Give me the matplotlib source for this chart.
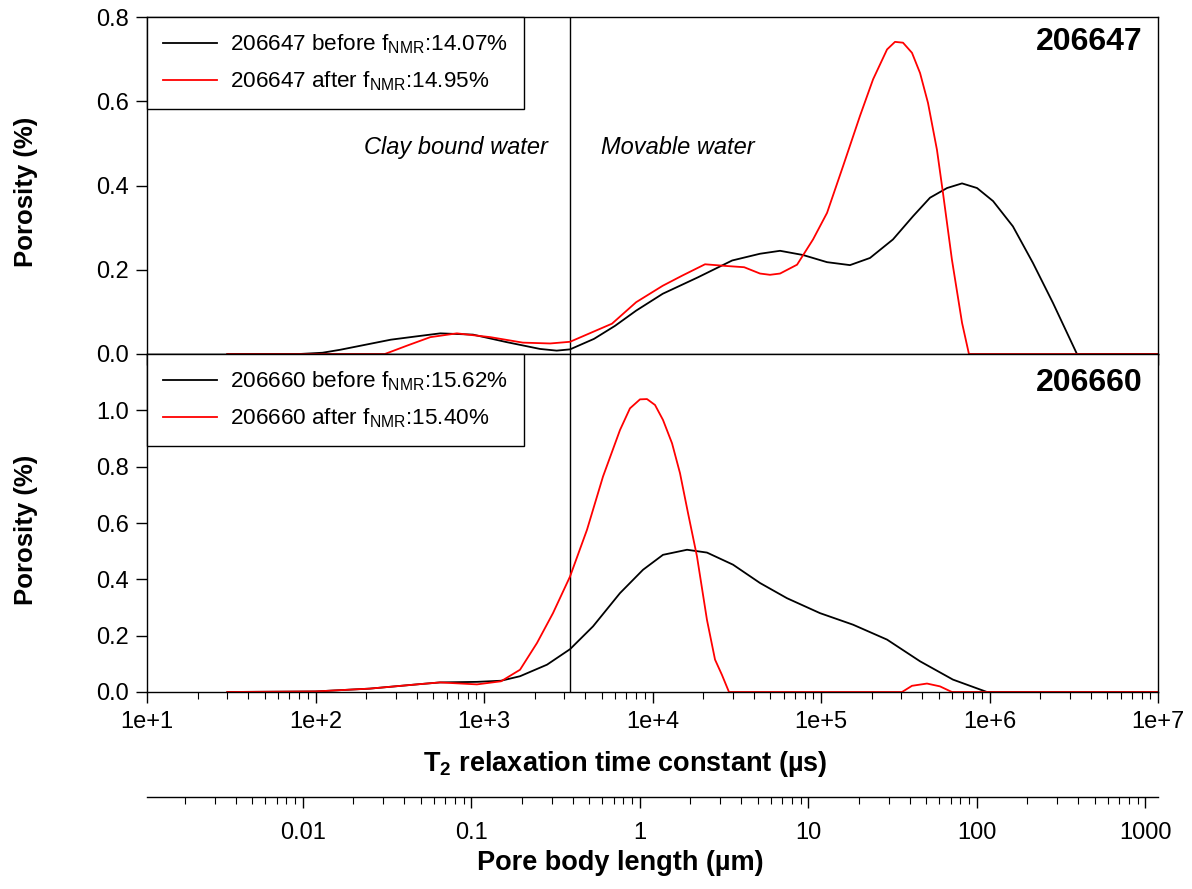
import numpy as np
import matplotlib
matplotlib.use("Agg")
import matplotlib.pyplot as plt
from matplotlib.ticker import FixedLocator, FixedFormatter, LogLocator, NullFormatter
from matplotlib.transforms import blended_transform_factory

plt.rcParams['font.family'] = ['Liberation Sans', 'DejaVu Sans']
plt.rcParams['mathtext.default'] = 'regular'

# ---------------- data (T2 in microseconds, porosity in %) ----------------
t2_a_before = [30, 80, 110, 140, 280, 400, 550, 860, 1370, 2150, 2700, 3240, 4500, 6000, 8000,
               11500, 18600, 29700, 43450, 57150, 78200, 108600, 148600, 195400, 267400,
               351600, 443600, 559800, 687100, 843300, 1050000, 1377000, 1811000, 2382000,
               3304000, 10000000]
por_a_before = [0, 0, 0.003, 0.010, 0.034, 0.042, 0.049, 0.046, 0.028, 0.012, 0.008, 0.011, 0.036,
                0.067, 0.103, 0.143, 0.182, 0.222, 0.238, 0.245, 0.235, 0.218, 0.211, 0.228,
                0.272, 0.327, 0.371, 0.394, 0.405, 0.394, 0.363, 0.303, 0.216, 0.121, 0, 0]

t2_a_after = [30, 258, 350, 480, 690, 1090, 1700, 2470, 3240, 5750, 8000, 11500, 15000, 20500,
              27300, 35000, 43450, 49800, 57150, 72100, 89700, 108600, 135200, 170300, 203700,
              246600, 274900, 306700, 346700, 387100, 431500, 487600, 529700, 598400, 687100,
              755100, 10000000]
por_a_after = [0, 0, 0.020, 0.040, 0.049, 0.040, 0.027, 0.025, 0.029, 0.072, 0.123, 0.162, 0.186,
               0.213, 0.209, 0.206, 0.191, 0.188, 0.191, 0.212, 0.272, 0.335, 0.446, 0.565,
               0.652, 0.723, 0.741, 0.739, 0.715, 0.667, 0.596, 0.485, 0.382, 0.224, 0.074,
               0, 0]

t2_b_before = [30, 100, 210, 417, 548, 908, 1262, 1636, 2366, 3240, 4436, 6412, 8786, 11540,
               16030, 21050, 30060, 43450, 62830, 98620, 154900, 246600, 387100, 606800,
               966000, 10000000]
por_b_before = [0, 0.002, 0.012, 0.028, 0.034, 0.036, 0.040, 0.056, 0.097, 0.152, 0.233, 0.351,
                0.434, 0.487, 0.505, 0.495, 0.452, 0.387, 0.333, 0.280, 0.239, 0.186, 0.109,
                0.044, 0, 0]

t2_b_after = [30, 100, 210, 417, 548, 908, 1262, 1636, 2063, 2567, 3240, 4086, 5085, 6412, 7348,
              8430, 9274, 10350, 11540, 13060, 14560, 16250, 18370, 21050, 23500, 25820, 28440,
              302600, 346700, 425600, 508200, 598400, 10000000]
por_b_after = [0, 0.002, 0.012, 0.028, 0.034, 0.027, 0.038, 0.079, 0.174, 0.280, 0.410, 0.576,
               0.765, 0.930, 1.007, 1.039, 1.040, 1.019, 0.966, 0.883, 0.777, 0.635, 0.481,
               0.256, 0.115, 0.061, 0, 0, 0.022, 0.030, 0.020, 0, 0]

t2_cutoff = 3240  # us
samples = ["206647", "206660"]
labels_a = ["206647 before f$_{NMR}$:14.07%", "206647 after f$_{NMR}$:14.95%"]
labels_b = ["206660 before f$_{NMR}$:15.62%", "206660 after f$_{NMR}$:15.40%"]

t2_ticks = [1e1, 1e2, 1e3, 1e4, 1e5, 1e6, 1e7]
t2_tick_labels = ["1e+1", "1e+2", "1e+3", "1e+4", "1e+5", "1e+6", "1e+7"]
pore_ticks = [0.01, 0.1, 1, 10, 100, 1000]
pore_tick_labels = ["0.01", "0.1", "1", "10", "100", "1000"]
t2_per_um = 8400.0  # T2 (us) per um of pore body length

# ---------------- figure ----------------
W, H = 1192, 889
fig = plt.figure(figsize=(W / 100, H / 100), dpi=100)
L, R = 147, 1158
ax1 = fig.add_axes([L / W, 1 - 354 / H, (R - L) / W, (354 - 17) / H])
ax2 = fig.add_axes([L / W, 1 - 692 / H, (R - L) / W, (692 - 354) / H])

tick_fs = 17
for ax in (ax1, ax2):
    ax.set_xscale('log')
    ax.set_xlim(1e1, 1e7)
    ax.xaxis.set_major_locator(FixedLocator(t2_ticks))
    ax.xaxis.set_minor_locator(LogLocator(base=10, subs=np.arange(2, 10), numticks=20))
    ax.xaxis.set_minor_formatter(NullFormatter())
    ax.tick_params(axis='both', which='major', direction='out', length=8, width=1,
                   labelsize=tick_fs, colors='black')
    ax.tick_params(axis='y', which='major', pad=5)
    ax.tick_params(axis='x', which='minor', direction='out', length=5, width=0.8)
    ax.tick_params(axis='y', which='minor', left=False)
    for s in ax.spines.values():
        s.set_linewidth(1.0)
    ax.axvline(t2_cutoff, color='black', lw=1.0)

ax1.plot(t2_a_before, por_a_before, color='black', lw=1.3, label=labels_a[0])
ax1.plot(t2_a_after, por_a_after, color='#ff0000', lw=1.3, label=labels_a[1])
ax2.plot(t2_b_before, por_b_before, color='black', lw=1.3, label=labels_b[0])
ax2.plot(t2_b_after, por_b_after, color='#ff0000', lw=1.3, label=labels_b[1])

ax1.set_ylim(0, 0.8)
ax1.set_yticks([0.0, 0.2, 0.4, 0.6, 0.8])
ax1.set_yticklabels(["0.0", "0.2", "0.4", "0.6", "0.8"])
ax1.xaxis.set_major_formatter(NullFormatter())

ax2.set_ylim(0, 1.2)
ax2.set_yticks([0.0, 0.2, 0.4, 0.6, 0.8, 1.0])
ax2.set_yticklabels(["0.0", "0.2", "0.4", "0.6", "0.8", "1.0"])
ax2.xaxis.set_major_formatter(FixedFormatter(t2_tick_labels))
ax2.tick_params(axis='x', which='major', pad=6)

for ax in (ax1, ax2):
    ax.set_ylabel("Porosity (%)", fontsize=18.5, fontweight='bold')
    ax.yaxis.set_label_coords(-0.108, 0.48)
ax2.set_xlabel("T$_2$ relaxation time constant (\u00b5s)", fontsize=19.5, fontweight='bold')
ax2.xaxis.set_label_coords(0.473, -0.168)

for ax, name, yy in ((ax1, samples[0], 0.926), (ax2, samples[1], 0.914)):
    ax.text(0.985, yy, name, transform=ax.transAxes, ha='right', va='center',
            fontsize=23, fontweight='bold')
    leg = ax.legend(loc='upper left', bbox_to_anchor=(0, 1), borderaxespad=0, fontsize=16.2,
                    frameon=True, fancybox=False, edgecolor='black', framealpha=1,
                    handlelength=2.4, handletextpad=0.58, borderpad=0.7, labelspacing=0.6)
    leg.get_frame().set_linewidth(1.0)

ax1.text(0.3966, 0.614, "Clay bound water", transform=ax1.transAxes, ha='right', va='center',
         fontsize=17, style='italic')
ax1.text(0.449, 0.614, "Movable water", transform=ax1.transAxes, ha='left',
         va='center', fontsize=17, style='italic')

# secondary pore body length axis
ax3 = fig.add_axes([L / W, 1 - 797 / H, (R - L) / W, 0.0001])
ax3.set_xscale('log')
ax3.set_xlim(1e1 / t2_per_um, 1e7 / t2_per_um)
for k in ('top', 'left', 'right'):
    ax3.spines[k].set_visible(False)
ax3.spines['bottom'].set_linewidth(1.0)
ax3.set_yticks([])
ax3.xaxis.set_major_locator(FixedLocator(pore_ticks))
ax3.xaxis.set_major_formatter(FixedFormatter(pore_tick_labels))
ax3.xaxis.set_minor_locator(LogLocator(base=10, subs=np.arange(2, 10), numticks=20))
ax3.xaxis.set_minor_formatter(NullFormatter())
ax3.tick_params(axis='x', which='major', direction='out', length=8, width=1,
                labelsize=tick_fs, pad=10)
ax3.tick_params(axis='x', which='minor', direction='out', length=5, width=0.8)
ax3.set_xlabel("Pore body length (\u00b5m)", fontsize=19.5, fontweight='bold')
ax3.xaxis.set_label_coords(0.468, 1 - 850 / H,
                           transform=blended_transform_factory(ax3.transAxes, fig.transFigure))

fig.savefig("out.png", dpi=100)
